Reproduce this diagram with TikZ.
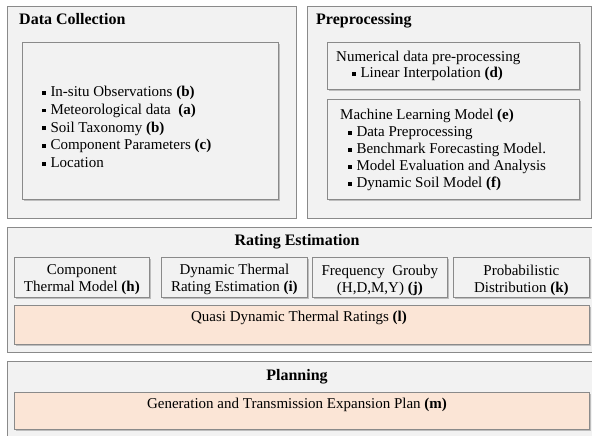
\documentclass[tikz,border=0pt]{standalone}
\usepackage{fontspec}
\setmainfont{Liberation Serif}
\usepackage{tikz}
\usetikzlibrary{positioning}
\usetikzlibrary{shadows}

\definecolor{panelgray}{HTML}{F2F2F2}
\definecolor{edgegray}{HTML}{8A8A8A}
\definecolor{peach}{HTML}{FBE5D6}
\newcommand{\sqb}{\raisebox{0.28ex}{\rule{3.8pt}{3.8pt}}\hspace{4.5pt}}

\begin{document}
\begin{tikzpicture}[x=1pt,y=-1pt,font=\rmfamily\fontsize{15}{17.5}\selectfont,
  outer/.style={draw=edgegray,fill=panelgray,line width=0.8pt,anchor=north west,inner sep=0pt,
    drop shadow={shadow xshift=1pt,shadow yshift=-1pt,opacity=0.3}},
  inner/.style={outer,drop shadow={shadow xshift=1.6pt,shadow yshift=-1.6pt,opacity=0.45}},
  salmon/.style={inner,fill=peach},
  heading/.style={inner sep=0pt,font=\rmfamily\fontsize{16}{18}\selectfont\bfseries},
  listing/.style={anchor=west,align=left,inner sep=0pt},
  twoline/.style={align=center,yshift=-2.5pt,font=\rmfamily\fontsize{15}{17}\selectfont}]

\fill[white] (0,0) rectangle (592,436);
\useasboundingbox (0,0) rectangle (592,436);

% top left panel
\node[outer,minimum width=289pt,minimum height=212pt] (collect) at (7,6) {};
\node[heading,anchor=base west] (collect title) at (19,25) {Data Collection};
\node[inner,minimum width=256pt,minimum height=157pt] (sources) at (22,42) {};
\node[listing,font=\rmfamily\fontsize{15}{17.8}\selectfont] (source list) at (42,127) {
\sqb In-situ Observations \textbf{(b)}\\
\sqb Meteorological data~ \textbf{(a)}\\
\sqb Soil Taxonomy \textbf{(b)}\\
\sqb Component Parameters \textbf{(c)}\\
\sqb Location};

% top right panel
\node[outer,minimum width=284pt,minimum height=212pt] (prep) at (307,6) {};
\node[heading,anchor=base west] (prep title) at (316,25) {Preprocessing};
\node[inner,minimum width=252pt,minimum height=47pt] (numeric) at (327,42) {};
\node[listing,font=\rmfamily\fontsize{15}{16.5}\selectfont] (numeric text) at (336,66) {
Numerical data pre-processing\\
\hspace{16pt}\sqb Linear Interpolation \textbf{(d)}};
\node[inner,minimum width=252pt,minimum height=100pt] (ml) at (327,99) {};
\node[listing,font=\rmfamily\fontsize{15}{17}\selectfont] (ml text) at (340,150) {
Machine Learning Model \textbf{(e)}\\
\hspace{8pt}\sqb Data Preprocessing\\
\hspace{8pt}\sqb Benchmark Forecasting Model.\\
\hspace{8pt}\sqb Model Evaluation and Analysis\\
\hspace{8pt}\sqb Dynamic Soil Model \textbf{(f)}};

% rating estimation
\node[outer,minimum width=585pt,minimum height=125pt] (rating) at (7,227) {};
\node[heading] (rating title) at (297,242) {Rating Estimation};
\node[inner,minimum width=135pt,minimum height=40pt] (thermal) at (14,257) {};
\node[twoline] at (thermal.center) {Component\\Thermal Model \textbf{(h)}};
\node[inner,minimum width=146pt,minimum height=40pt] (dtr) at (161,257) {};
\node[twoline] at (dtr.center) {Dynamic Thermal\\Rating Estimation \textbf{(i)}};
\node[inner,minimum width=135pt,minimum height=40pt] (freq) at (312,257) {};
\node[twoline] at (freq.center) {Frequency~ Grouby\\(H,D,M,Y) \textbf{(j)}};
\node[inner,minimum width=136pt,minimum height=40pt] (prob) at (453,257) {};
\node[twoline] at (prob.center) {Probabilistic\\Distribution \textbf{(k)}};
\node[salmon,minimum width=575pt,minimum height=39pt] (quasi) at (14,305) {};
\node (quasi text) at (299,318) {Quasi Dynamic Thermal Ratings \textbf{(l)}};

% planning
\node[outer,minimum width=585pt,minimum height=85pt] (plan) at (7,361) {};
\node[heading] (plan title) at (297,377) {Planning};
\node[salmon,minimum width=575pt,minimum height=37pt] (expansion) at (14,392) {};
\node (expansion text) at (297,405) {Generation and Transmission Expansion Plan \textbf{(m)}};

\end{tikzpicture}
\end{document}
